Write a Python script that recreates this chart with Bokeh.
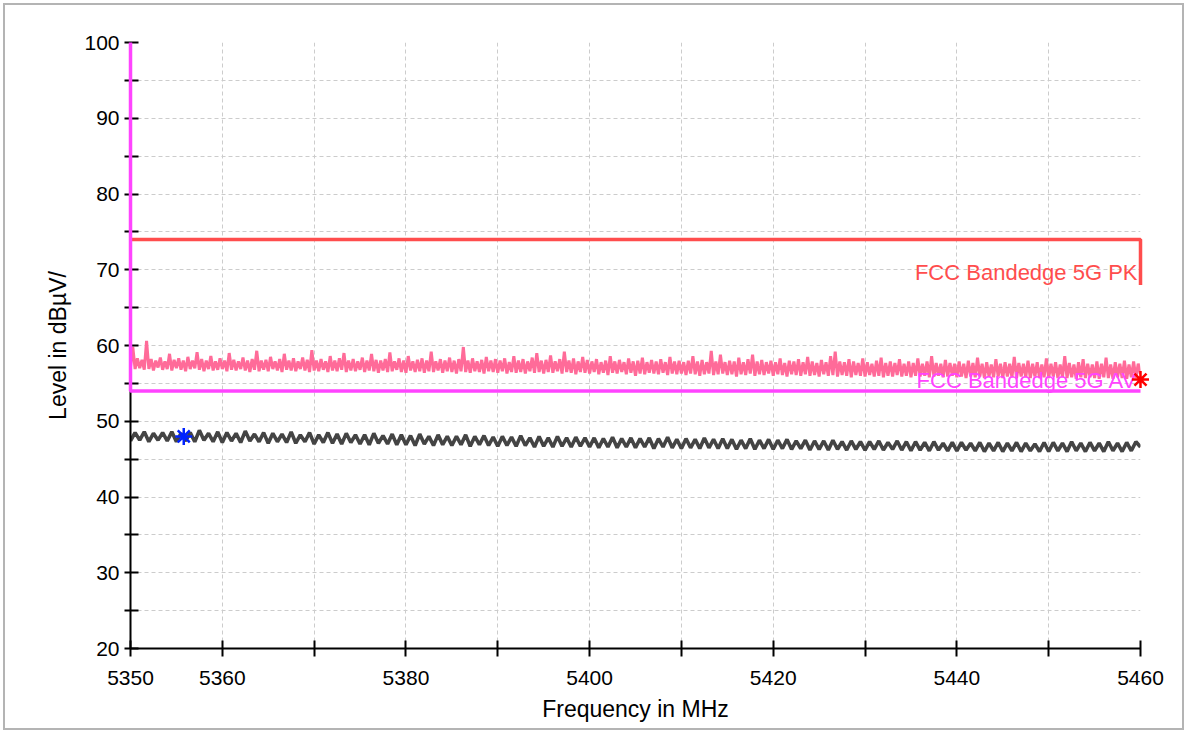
from bokeh.plotting import figure
from bokeh.models import Range1d, FixedTicker, InlineStyleSheet
from bokeh.core.properties import value
from bokeh.embed import file_html
from bokeh.resources import INLINE

# ---------------- data ----------------
f_start = 5350.0
pk_step = 0.25
av_step = 0.5

pk_trace = [
    57.2, 59.8, 56.9, 58.3, 57.0, 58.1, 56.8, 60.6, 56.9, 58.2,
    56.7, 58.0, 57.1, 58.4, 56.8, 57.9, 56.9, 58.9, 56.7, 58.1,
    57.0, 58.3, 56.8, 58.0, 56.6, 58.5, 56.9, 58.0, 57.0, 59.1,
    56.8, 58.2, 56.6, 58.0, 56.9, 58.6, 56.7, 57.9, 56.8, 58.3,
    56.9, 58.0, 56.6, 59.0, 56.8, 58.1, 56.7, 57.9, 56.9, 58.4,
    56.7, 58.0, 56.5, 58.2, 56.8, 59.3, 56.6, 58.0, 56.8, 58.1,
    56.6, 58.5, 56.9, 57.9, 56.7, 58.2, 56.5, 58.9, 56.8, 58.0,
    56.7, 58.3, 56.6, 57.9, 56.9, 58.4, 56.7, 58.1, 56.5, 59.4,
    56.7, 58.0, 56.6, 58.2, 56.8, 57.9, 56.5, 58.6, 56.7, 58.0,
    56.6, 58.3, 56.8, 59.0, 56.5, 58.0, 56.7, 58.2, 56.6, 57.9,
    56.8, 58.4, 56.5, 58.0, 56.7, 58.9, 56.6, 58.1, 56.4, 58.0,
    56.7, 58.2, 56.5, 59.1, 56.6, 57.9, 56.8, 58.3, 56.5, 58.0,
    56.4, 58.6, 56.7, 57.9, 56.5, 58.1, 56.6, 58.3, 56.4, 58.0,
    56.6, 59.2, 56.5, 57.9, 56.7, 58.2, 56.4, 58.0, 56.6, 58.4,
    56.5, 58.0, 56.3, 58.2, 56.6, 59.8, 56.5, 58.0, 56.4, 58.3,
    56.6, 57.9, 56.5, 58.1, 56.3, 58.5, 56.6, 58.0, 56.5, 58.2,
    56.4, 58.0, 56.6, 58.3, 56.3, 57.8, 56.5, 58.6, 56.4, 58.0,
    56.5, 58.2, 56.3, 57.9, 56.6, 58.4, 56.4, 59.0, 56.5, 58.0,
    56.3, 58.1, 56.5, 58.7, 56.4, 57.9, 56.6, 58.2, 56.3, 59.2,
    56.5, 58.0, 56.4, 58.3, 56.2, 57.9, 56.5, 58.5, 56.4, 58.1,
    56.3, 57.9, 56.5, 58.2, 56.2, 57.8, 56.4, 58.0, 56.1, 58.6,
    56.4, 57.9, 56.3, 58.1, 56.5, 57.8, 56.2, 58.3, 56.4, 57.9,
    56.0, 58.0, 56.3, 58.4, 56.2, 57.8, 56.4, 58.1, 56.3, 57.9,
    56.2, 58.2, 56.4, 57.8, 56.1, 58.5, 56.3, 57.9, 56.2, 58.0,
    56.3, 57.8, 56.1, 58.0, 56.3, 58.6, 56.2, 57.9, 56.0, 58.1,
    56.2, 57.8, 56.3, 59.3, 56.1, 57.9, 56.2, 58.8, 56.3, 57.8,
    56.1, 58.0, 56.2, 57.9, 55.9, 58.4, 56.2, 57.8, 56.1, 58.2,
    56.3, 58.8, 56.0, 57.9, 56.2, 58.1, 56.1, 57.8, 56.3, 58.0,
    56.0, 57.8, 56.2, 58.3, 56.1, 57.7, 55.9, 58.0, 56.2, 57.9,
    56.1, 58.2, 56.0, 57.8, 56.2, 58.5, 56.0, 57.9, 56.1, 57.7,
    55.9, 58.1, 56.2, 57.8, 56.0, 58.6, 56.1, 59.2, 55.9, 57.9,
    56.1, 57.8, 56.0, 58.2, 55.8, 57.9, 56.1, 57.7, 56.0, 58.3,
    55.9, 57.8, 56.1, 57.6, 55.9, 58.0, 56.0, 58.4, 55.8, 57.7,
    56.0, 57.9, 55.9, 57.7, 56.1, 58.2, 55.9, 57.6, 56.0, 57.9,
    55.8, 57.7, 56.0, 58.3, 55.9, 57.6, 56.0, 57.9, 55.8, 58.6,
    55.9, 57.7, 56.0, 57.6, 55.8, 58.1, 55.9, 57.7, 56.0, 57.6,
    55.8, 57.9, 55.9, 57.6, 55.7, 58.0, 55.9, 57.7, 55.8, 58.4,
    55.9, 57.6, 55.7, 57.8, 55.9, 57.5, 55.8, 58.2, 55.9, 57.6,
    55.7, 57.8, 55.9, 57.6, 55.8, 58.5, 55.7, 57.7, 55.9, 57.6,
    55.8, 58.0, 55.7, 57.6, 55.9, 57.8, 55.7, 57.5, 55.8, 58.3,
    55.7, 57.6, 55.9, 57.8, 55.7, 57.5, 55.8, 58.6, 55.7, 57.7,
    55.8, 57.5, 55.6, 57.8, 55.8, 58.2, 55.7, 57.6, 55.8, 57.5,
    55.7, 57.9, 55.6, 57.6, 55.8, 58.4, 55.7, 57.5, 55.6, 57.8,
    55.8, 57.6, 55.7, 58.0, 55.6, 57.5, 55.8, 57.9, 55.7, 57.6,
    56.2,
]

av_trace = [
    47.4, 48.5, 47.5, 48.6, 47.3, 48.4, 47.5, 48.5, 47.4, 48.6,
    47.3, 48.4, 47.4, 48.5, 47.3, 48.8, 47.5, 48.4, 47.3, 48.6,
    47.2, 48.5, 47.4, 48.4, 47.2, 48.7, 47.4, 48.3, 47.3, 48.5,
    47.1, 48.4, 47.3, 48.3, 47.2, 48.6, 47.1, 48.2, 47.3, 48.5,
    47.0, 48.2, 47.2, 48.5, 47.1, 48.3, 47.0, 48.4, 47.2, 48.2,
    47.0, 48.2, 46.9, 48.4, 47.1, 48.1, 47.0, 48.3, 46.9, 48.2,
    46.9, 48.1, 46.8, 48.3, 47.0, 48.0, 46.8, 48.2, 46.9, 48.0,
    46.8, 48.0, 46.9, 48.2, 46.7, 48.0, 46.9, 48.1, 46.8, 47.9,
    46.7, 48.0, 46.8, 47.9, 46.7, 48.1, 46.8, 47.8, 46.6, 48.0,
    46.7, 47.8, 46.6, 48.0, 46.7, 47.8, 46.6, 47.9, 46.7, 47.8,
    46.6, 47.8, 46.5, 47.7, 46.6, 47.9, 46.5, 47.7, 46.6, 47.8,
    46.5, 47.7, 46.6, 47.8, 46.4, 47.7, 46.6, 47.9, 46.5, 47.6,
    46.4, 47.7, 46.5, 47.6, 46.4, 47.8, 46.5, 47.6, 46.4, 47.7,
    46.4, 47.6, 46.3, 47.5, 46.4, 47.7, 46.3, 47.5, 46.4, 47.6,
    46.3, 47.5, 46.4, 47.6, 46.3, 47.4, 46.4, 47.5, 46.2, 47.4,
    46.3, 47.4, 46.2, 47.5, 46.3, 47.3, 46.2, 47.4, 46.3, 47.3,
    46.2, 47.3, 46.3, 47.4, 46.2, 47.2, 46.3, 47.4, 46.2, 47.3,
    46.1, 47.3, 46.2, 47.2, 46.1, 47.3, 46.2, 47.1, 46.1, 47.2,
    46.1, 47.2, 46.2, 47.1, 46.1, 47.2, 46.0, 47.1, 46.1, 47.2,
    46.0, 47.1, 46.1, 47.2, 46.0, 47.1, 46.1, 47.0, 46.0, 47.2,
    46.0, 47.2, 46.1, 47.1, 46.0, 47.3, 46.1, 47.1, 46.0, 47.2,
    46.1, 47.1, 46.0, 47.3, 46.1, 47.1, 46.0, 47.2, 46.1, 47.3,
    46.6,
]

pk_limit_f = [5350, 5460, 5460]
pk_limit_v = [74, 74, 68]
av_limit_f = [5350, 5350, 5460]
av_limit_v = [100, 54, 54]

marker_av_f = [5355.8]
marker_av_v = [48.0]
marker_pk_f = [5460.0]
marker_pk_v = [55.5]

x_ticks = [5350, 5360, 5370, 5380, 5390, 5400, 5410, 5420, 5430, 5440, 5450, 5460]
x_labels = {5350: "5350", 5360: "5360", 5380: "5380", 5400: "5400",
            5420: "5420", 5440: "5440", 5460: "5460"}
y_ticks = [20, 25, 30, 35, 40, 45, 50, 55, 60, 65, 70, 75, 80, 85, 90, 95, 100]
y_labels = {20: "20", 30: "30", 40: "40", 50: "50", 60: "60", 70: "70",
            80: "80", 90: "90", 100: "100"}

pk_f = [f_start + i * pk_step for i in range(len(pk_trace))]
av_f = [f_start + i * av_step for i in range(len(av_trace))]

# ---------------- figure ----------------
FONT = "Liberation Sans"

frame_css = InlineStyleSheet(css=""":host::after {
  content: "";
  position: absolute;
  left: 3px; top: 3px; width: 1181px; height: 727px;
  border: 2px solid #b4b4b4;
  box-sizing: border-box;
  pointer-events: none;
  z-index: 10;
}""")

p = figure(
    frame_width=1010, frame_height=606,
    min_border_left=130, min_border_right=46, min_border_top=42, min_border_bottom=83,
    x_range=Range1d(5350, 5460), y_range=Range1d(20, 100),
    output_backend="svg", toolbar_location=None,
    background_fill_color="white", border_fill_color="white",
    stylesheets=[frame_css],
)
p.outline_line_color = None

# axes
for ax in (p.xaxis[0], p.yaxis[0]):
    ax.axis_line_color = "black"
    ax.axis_line_width = 2
    ax.major_tick_line_color = "black"
    ax.major_tick_line_width = 2
    ax.minor_tick_line_color = None
    ax.major_label_text_font = FONT
    ax.major_label_text_font_size = "21px"
    ax.major_label_text_color = "black"
    ax.axis_label_text_font = FONT
    ax.axis_label_text_font_size = "23px"
    ax.axis_label_text_font_style = "normal"
    ax.axis_label_text_color = "black"

p.xaxis.ticker = FixedTicker(ticks=x_ticks)
p.xaxis.major_label_overrides = {t: x_labels.get(t, "") for t in x_ticks}
p.xaxis.major_tick_in = 8
p.xaxis.major_tick_out = 8
p.xaxis.major_label_standoff = 14
p.xaxis.axis_label = "Frequency in MHz"
p.xaxis.axis_label_standoff = 8

p.yaxis.ticker = FixedTicker(ticks=y_ticks)
p.yaxis.major_label_overrides = {t: y_labels.get(t, "") for t in y_ticks}
p.yaxis.major_tick_in = 8
p.yaxis.major_tick_out = 6
p.yaxis.major_label_standoff = 5
p.yaxis.axis_label = "Level in dBµV/"
p.yaxis.axis_label_standoff = 10

# grid
p.xgrid.ticker = FixedTicker(ticks=x_ticks)
p.ygrid.ticker = FixedTicker(ticks=y_ticks)
for g in (p.xgrid[0], p.ygrid[0]):
    g.grid_line_color = "#cccccc"
    g.grid_line_dash = "4 3"
    g.grid_line_width = 1

# traces
p.line(pk_f, pk_trace, line_color="#ff6b99", line_width=3)
p.line(av_f, av_trace, line_color="#444444", line_width=3.6)

# limit lines (drawn above the axes)
p.line(pk_limit_f, pk_limit_v, line_color="#ff4d4d", line_width=3.5, level="overlay")
p.line(av_limit_f, av_limit_v, line_color="#ff44ff", line_width=3.5, level="overlay")

# limit labels
p.text(x=[5460], y=[69.6], text=["FCC Bandedge 5G PK"], x_offset=-3,
       text_align="right", text_baseline="middle", text_color="#ff4d4d",
       text_font=value(FONT), text_font_size="22px")
p.text(x=[5460], y=[55.4], text=["FCC Bandedge 5G AV"], x_offset=-3,
       text_align="right", text_baseline="middle", text_color="#ff44ff",
       text_font=value(FONT), text_font_size="22px")

# markers
p.scatter(marker_av_f, marker_av_v, marker="asterisk", size=17,
          line_color="#0022ff", line_width=2.5, level="overlay")
p.scatter(marker_pk_f, marker_pk_v, marker="asterisk", size=17,
          line_color="#ff0000", line_width=2.5, level="overlay")

open("out.html", "w").write(file_html(p, INLINE))
